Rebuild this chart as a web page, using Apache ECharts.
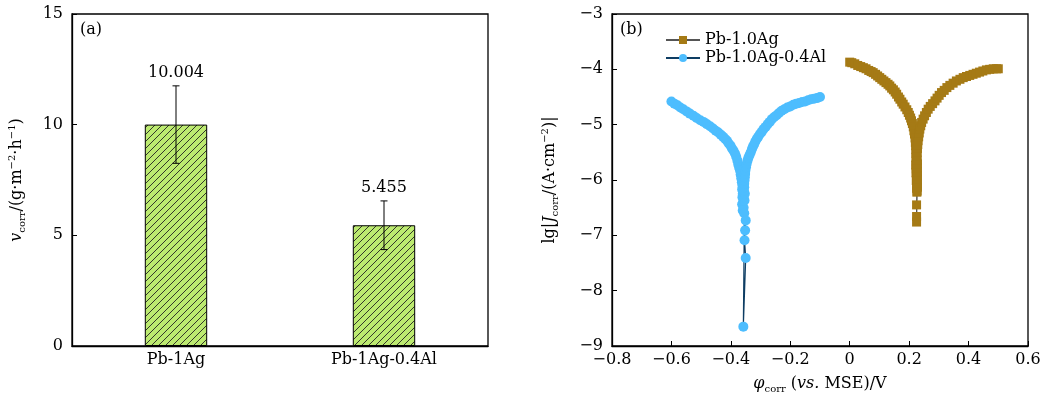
<!DOCTYPE html>
<html>
<head>
<meta charset="utf-8">
<script src="https://cdn.jsdelivr.net/npm/echarts@6/dist/echarts.min.js"></script>
<style>html,body{margin:0;padding:0;background:#fff;}#c{width:1045px;height:407px;}</style>
</head>
<body>
<div id="c"></div>
<script>
// ---------- Panel (a) data ----------
const barCategories = ['Pb-1Ag', 'Pb-1Ag-0.4Al'];
const barValues = [10.004, 5.455];
const barErrors = [1.75, 1.1];
const barLabels = ['10.004', '5.455'];
const aTicks = [0, 5, 10, 15];

// ---------- Panel (b) data: [potential V, lg|J|] ----------
const pbAgLeft = [
[0.000,-3.87],[0.007,-3.88],[0.017,-3.90],[0.027,-3.93],[0.037,-3.95],[0.046,-3.97],[0.055,-3.99],[0.064,-4.02],
[0.072,-4.04],[0.079,-4.06],[0.087,-4.09],[0.094,-4.12],[0.101,-4.15],[0.108,-4.18],[0.115,-4.21],[0.122,-4.24],
[0.129,-4.27],[0.135,-4.30],[0.141,-4.34],[0.147,-4.37],[0.153,-4.41],[0.158,-4.45],[0.164,-4.50],[0.169,-4.54],
[0.175,-4.59],[0.180,-4.63],[0.186,-4.68],[0.192,-4.73],[0.197,-4.78],[0.201,-4.83],[0.205,-4.88],[0.208,-4.93],
[0.211,-4.98],[0.214,-5.04],[0.216,-5.11],[0.218,-5.17],[0.220,-5.24],[0.221,-5.32],[0.222,-5.38],[0.223,-5.45],
[0.223,-5.52],[0.223,-5.59],[0.224,-5.66],[0.222,-5.73],[0.224,-5.80],[0.223,-5.87],[0.225,-5.94],[0.224,-6.01],
[0.226,-6.08],[0.225,-6.15],[0.226,-6.22]];
const pbAgTail = [[0.225,-6.45],[0.225,-6.66],[0.225,-6.76]];
const pbAgRight = [
[0.227,-6.20],[0.228,-6.13],[0.227,-6.06],[0.228,-5.99],[0.227,-5.92],[0.228,-5.85],[0.227,-5.78],[0.228,-5.71],
[0.227,-5.64],[0.226,-5.57],[0.227,-5.50],[0.228,-5.43],[0.229,-5.36],[0.230,-5.29],[0.232,-5.22],[0.234,-5.15],
[0.236,-5.08],[0.239,-5.02],[0.242,-4.96],[0.247,-4.90],[0.252,-4.84],[0.258,-4.78],[0.264,-4.72],[0.271,-4.67],
[0.279,-4.62],[0.287,-4.57],[0.294,-4.52],[0.301,-4.47],[0.309,-4.42],[0.318,-4.38],[0.327,-4.33],[0.337,-4.29],
[0.348,-4.25],[0.359,-4.21],[0.371,-4.18],[0.382,-4.15],[0.393,-4.13],[0.404,-4.11],[0.415,-4.09],[0.426,-4.07],
[0.437,-4.05],[0.448,-4.03],[0.460,-4.01],[0.471,-4.00],[0.483,-3.99],[0.494,-3.99],[0.500,-3.99]];

const pbAgAlLeft = [
[-0.600,-4.58],[-0.590,-4.62],[-0.580,-4.65],[-0.570,-4.69],[-0.560,-4.72],[-0.549,-4.76],[-0.538,-4.80],[-0.526,-4.84],
[-0.515,-4.88],[-0.503,-4.92],[-0.492,-4.95],[-0.481,-4.99],[-0.470,-5.03],[-0.460,-5.07],[-0.451,-5.11],[-0.442,-5.14],
[-0.434,-5.18],[-0.426,-5.22],[-0.419,-5.26],[-0.413,-5.29],[-0.407,-5.34],[-0.401,-5.38],[-0.396,-5.43],[-0.391,-5.47],
[-0.386,-5.52],[-0.382,-5.58],[-0.378,-5.65],[-0.375,-5.72],[-0.372,-5.78],[-0.369,-5.83],[-0.367,-5.90],[-0.365,-5.97],
[-0.363,-6.04],[-0.361,-6.10],[-0.362,-6.17],[-0.360,-6.25],[-0.361,-6.31],[-0.358,-6.38],[-0.362,-6.44],[-0.357,-6.50],
[-0.360,-6.55],[-0.355,-6.60]];
const pbAgAlTail = [[-0.350,-6.73],[-0.352,-6.91],[-0.354,-7.09],[-0.350,-7.41],[-0.358,-8.65]];
const pbAgAlRight = [
[-0.354,-6.37],[-0.357,-6.31],[-0.353,-6.25],[-0.356,-6.19],[-0.355,-6.13],[-0.355,-6.07],[-0.354,-6.01],[-0.353,-5.95],
[-0.352,-5.89],[-0.351,-5.83],[-0.349,-5.77],[-0.347,-5.71],[-0.344,-5.65],[-0.341,-5.60],[-0.337,-5.55],[-0.333,-5.50],
[-0.329,-5.44],[-0.326,-5.40],[-0.322,-5.36],[-0.318,-5.31],[-0.313,-5.26],[-0.308,-5.22],[-0.302,-5.17],[-0.296,-5.13],
[-0.290,-5.08],[-0.283,-5.04],[-0.276,-4.99],[-0.269,-4.95],[-0.262,-4.90],[-0.254,-4.86],[-0.246,-4.83],[-0.238,-4.79],
[-0.229,-4.75],[-0.220,-4.72],[-0.210,-4.69],[-0.200,-4.67],[-0.190,-4.64],[-0.180,-4.62],[-0.170,-4.61],[-0.160,-4.59],
[-0.150,-4.58],[-0.140,-4.56],[-0.130,-4.54],[-0.120,-4.53],[-0.110,-4.52],[-0.100,-4.50]];

const seriesNames = ['Pb-1.0Ag', 'Pb-1.0Ag-0.4Al'];
const bTicksX = [-0.8, -0.6, -0.4, -0.2, 0, 0.2, 0.4, 0.6];
const bTicksY = [-9, -8, -7, -6, -5, -4, -3];

// ---------- Rendering ----------
const FONT = 'DejaVu Serif';
const FS = 16;
const chart = echarts.init(document.getElementById('c'), null, {renderer: 'canvas'});

// hatch pattern for bars
const pc = document.createElement('canvas');
pc.width = 7; pc.height = 7;
const g = pc.getContext('2d');
g.fillStyle = '#BCEA70';
g.fillRect(0, 0, 7, 7);
g.strokeStyle = '#222';
g.lineWidth = 0.9;
g.beginPath();
g.moveTo(-1, 8); g.lineTo(8, -1);
g.moveTo(-1, 1); g.lineTo(1, -1);
g.moveTo(6, 8); g.lineTo(8, 6);
g.stroke();

const minus = v => String(v).replace('-', '\u2212');
const rich = {
  n: {fontFamily: FONT, fontSize: FS, color: '#000', lineHeight: 20},
  i: {fontFamily: FONT, fontSize: FS, fontStyle: 'italic', color: '#000', lineHeight: 20},
  s: {fontFamily: FONT, fontSize: 10, color: '#000', verticalAlign: 'bottom', lineHeight: 12},
  p: {fontFamily: FONT, fontSize: 10, color: '#000', verticalAlign: 'top', lineHeight: 12}
};
const axisLbl = {color: '#000', fontFamily: FONT, fontSize: FS};
const symSeries = (name, data, color, lineColor, symbol, size) => ({
  name, type: 'line', xAxisIndex: 1, yAxisIndex: 1, data,
  symbol, symbolSize: size, showSymbol: true,
  lineStyle: {color: lineColor, width: 1.2},
  itemStyle: {color: color, borderWidth: 0},
  emphasis: {disabled: true}
});
const axLine = {show: true, onZero: false, lineStyle: {color: '#000', width: 1.3}};
const axTick = {show: true, inside: true, length: 5, lineStyle: {color: '#000'}};

const option = {
  animation: false,
  backgroundColor: '#fff',
  grid: [
    {left: 72, top: 14, width: 416, height: 332, show: true, borderColor: '#000', borderWidth: 1.3, backgroundColor: 'transparent'},
    {left: 612, top: 14, width: 416, height: 332, show: true, borderColor: '#000', borderWidth: 1.3, backgroundColor: 'transparent'}
  ],
  xAxis: [
    {type: 'category', gridIndex: 0, data: barCategories,
     axisLine: axLine,
     axisTick: Object.assign({alignWithLabel: true}, axTick),
     axisLabel: Object.assign({margin: 6}, axisLbl)},
    {type: 'value', gridIndex: 1, min: bTicksX[0], max: bTicksX[bTicksX.length - 1], interval: 0.2,
     axisLine: axLine, axisTick: axTick,
     splitLine: {show: false},
     axisLabel: Object.assign({margin: 6, formatter: v => minus(+v.toFixed(1))}, axisLbl),
     name: '{i|\u03C6}{s|corr}{n| (}{i|vs.}{n| MSE)/V}', nameLocation: 'middle', nameGap: 28,
     nameTextStyle: {rich}}
  ],
  yAxis: [
    {type: 'value', gridIndex: 0, min: aTicks[0], max: aTicks[aTicks.length - 1], interval: 5,
     axisLine: axLine, axisTick: axTick,
     splitLine: {show: false},
     axisLabel: Object.assign({margin: 9}, axisLbl),
     name: '{i|v}{s|corr}{n|/(g\u00B7m}{p|\u22122}{n|\u00B7h}{p|\u22121}{n|)}', nameLocation: 'middle', nameGap: 45,
     nameTextStyle: {rich}},
    {type: 'value', gridIndex: 1, min: bTicksY[0], max: bTicksY[bTicksY.length - 1], interval: 1,
     axisLine: axLine, axisTick: axTick,
     splitLine: {show: false},
     axisLabel: Object.assign({margin: 9, formatter: v => minus(v)}, axisLbl),
     name: '{n|lg|}{i|J}{s|corr}{n|/(A\u00B7cm}{p|\u22122}{n|)|}', nameLocation: 'middle', nameGap: 52,
     nameTextStyle: {rich}}
  ],
  legend: {
    data: seriesNames, orient: 'vertical', left: 660, top: 27,
    itemWidth: 34, itemHeight: 10, itemGap: 2,
    textStyle: {fontFamily: FONT, fontSize: FS, color: '#000'}
  },
  graphic: [
    {type: 'text', left: 80, top: 22, style: {text: '(a)', font: FS + 'px "DejaVu Serif"', fill: '#000'}},
    {type: 'text', left: 620, top: 22, style: {text: '(b)', font: FS + 'px "DejaVu Serif"', fill: '#000'}}
  ],
  series: [
    {type: 'bar', xAxisIndex: 0, yAxisIndex: 0, data: barValues, barWidth: '30%', z: 2,
     itemStyle: {color: {image: pc, repeat: 'repeat'}, borderColor: '#000', borderWidth: 1},
     emphasis: {disabled: true}},
    {type: 'custom', xAxisIndex: 0, yAxisIndex: 0, z: 5,
     data: barValues.map((v, i) => [i, v, barErrors[i]]),
     renderItem: (params, api) => {
       const x = api.value(0), v = api.value(1), e = api.value(2);
       const t = api.coord([x, v + e]), b = api.coord([x, v - e]);
       const w = 3.5, st = {stroke: '#000', lineWidth: 1};
       return {type: 'group', children: [
         {type: 'line', shape: {x1: t[0], y1: t[1], x2: b[0], y2: b[1]}, style: st},
         {type: 'line', shape: {x1: t[0] - w, y1: t[1], x2: t[0] + w, y2: t[1]}, style: st},
         {type: 'line', shape: {x1: b[0] - w, y1: b[1], x2: b[0] + w, y2: b[1]}, style: st},
         {type: 'text', x: t[0], y: t[1] - 5,
          style: {text: barLabels[params.dataIndex], textAlign: 'center', textVerticalAlign: 'bottom',
                  font: FS + 'px "DejaVu Serif"', fill: '#000'}}
       ]};
     }},
    symSeries(seriesNames[0], pbAgLeft.concat(pbAgTail, pbAgRight), '#A57A15', '#555555', 'rect', 9),
    symSeries(seriesNames[1], pbAgAlLeft.concat(pbAgAlTail, pbAgAlRight), '#4DBDFE', '#0E3D63', 'circle', 10)
  ]
};
chart.setOption(option);
</script>
</body>
</html>
